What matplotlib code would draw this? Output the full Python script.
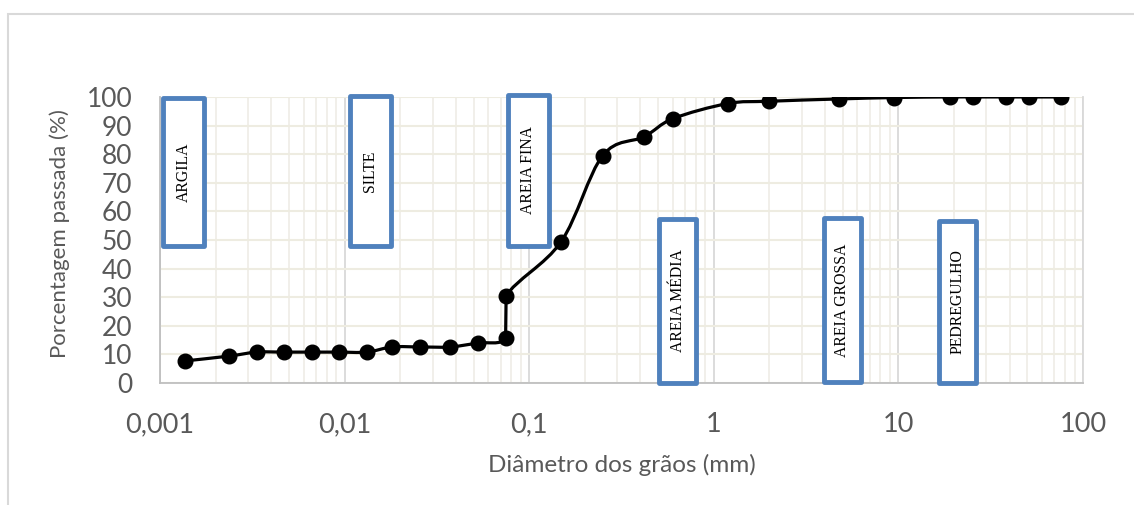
import numpy as np
import matplotlib
matplotlib.use('Agg')
from matplotlib import pyplot as plt
from matplotlib.path import Path
from matplotlib.patches import PathPatch, Rectangle
from matplotlib.ticker import FixedLocator, FuncFormatter, LogLocator, NullFormatter

# Grain size data (mm) and percent passing
diametro = [0.00136, 0.00236, 0.00335, 0.0047, 0.00666, 0.00933, 0.0132, 0.0181,
            0.0256, 0.0372, 0.0528, 0.0745, 0.075, 0.149, 0.25, 0.42, 0.6, 1.19,
            2.0, 4.76, 9.52, 19.1, 25.4, 38.1, 50.8, 76.2]
passada = [7.7, 9.4, 10.8, 10.8, 10.8, 10.8, 10.8, 12.6, 12.6, 12.6, 14.0, 15.7,
           30.4, 49.4, 79.5, 86.1, 92.4, 97.7, 98.5, 99.3, 99.8, 100, 100, 100, 100, 100]

x_ticks = [0.001, 0.01, 0.1, 1, 10, 100]
x_labels = ['0,001', '0,01', '0,1', '1', '10', '100']
y_ticks = list(range(0, 101, 10))

# soil class boxes: label, x0, x1, y0, y1 (axes fraction)
classes = ['ARGILA', 'SILTE', 'AREIA FINA', 'AREIA MÉDIA', 'AREIA GROSSA', 'PEDREGULHO']
box_x = [(0.003, 0.048), (0.206, 0.250), (0.377, 0.421), (0.541, 0.581), (0.719, 0.759), (0.844, 0.884)]
box_y = [(0.478, 0.997), (0.478, 1.003), (0.478, 1.008), (0.0, 0.575), (0.003, 0.578), (0.0, 0.568)]

fig = plt.figure(figsize=(11.34, 5.05), dpi=100)
ax = fig.add_axes([0.1411, 0.2416, 0.8139, 0.5664])

# outer chart border
fig.patches.append(Rectangle((8 / 1134, -0.1), 1.2, (505 - 14) / 505 + 0.1,
                             transform=fig.transFigure, fill=False,
                             edgecolor='#D9D9D9', lw=1.5))

ax.set_xscale('log')
ax.set_xlim(0.001, 100)
ax.set_ylim(0, 100)

# smoothed line (cardinal spline, like Excel) built as bezier path in log space
lx = np.log10(diametro)
ly = np.array(passada, dtype=float)
pts = np.column_stack([lx, ly])
verts = [pts[0]]
codes = [Path.MOVETO]
n = len(pts)
for i in range(n - 1):
    p0 = pts[i - 1] if i > 0 else pts[i]
    p1 = pts[i]
    p2 = pts[i + 1]
    p3 = pts[i + 2] if i + 2 < n else pts[i + 1]
    c1 = p1 + (p2 - p0) / 6
    c2 = p2 - (p3 - p1) / 6
    if i == 11:  # near-vertical jump, keep straight
        c1, c2 = p1, p2
    verts += [c1, c2, p2]
    codes += [Path.CURVE4] * 3
verts = np.array(verts)
verts[:, 0] = 10 ** verts[:, 0]
ax.add_patch(PathPatch(Path(verts, codes), fill=False, edgecolor='black', lw=2.3, zorder=3))
ax.plot(diametro, passada, linestyle='none', marker='o', color='black', markersize=10.5, zorder=4)

# grid
ax.xaxis.set_major_locator(FixedLocator(x_ticks))
ax.xaxis.set_minor_locator(LogLocator(base=10, subs=np.arange(2, 10)))
ax.xaxis.set_minor_formatter(NullFormatter())
ax.xaxis.set_major_formatter(FuncFormatter(lambda v, p: x_labels[x_ticks.index(v)] if v in x_ticks else ''))
ax.set_yticks(y_ticks)
ax.grid(True, which='major', axis='x', color='#D9D9D9', lw=1.3)
ax.grid(True, which='minor', axis='x', color='#F0EEE8', lw=1.3)
ax.grid(True, which='major', axis='y', color='#EEECE1', lw=1.5)
ax.set_axisbelow(True)
ax.tick_params(which='both', length=0)
ax.tick_params(axis='x', labelsize=19.5, colors='#595959', pad=21)
ax.tick_params(axis='y', labelsize=19, colors='#595959', pad=20)
for lab in ax.get_xticklabels() + ax.get_yticklabels():
    lab.set_family('Lato')

for s in ['top']:
    ax.spines[s].set_visible(False)
for s in ['left', 'bottom', 'right']:
    ax.spines[s].set_color('#BFBFBF')
    ax.spines[s].set_linewidth(1.3)
ax.spines['right'].set_color('#D9D9D9')

ax.set_xlabel('Diâmetro dos grãos (mm)', fontsize=17.5, color='#595959', family='Lato', labelpad=12)
ax.set_ylabel('Porcentagem passada (%)', fontsize=16, color='#595959', family='Lato')
ax.yaxis.set_label_coords(-0.097, 0.524)

for lab, (x0, x1), (y0, y1) in zip(classes, box_x, box_y):
    ax.add_patch(Rectangle((x0, y0), x1 - x0, y1 - y0, transform=ax.transAxes,
                           facecolor='white', edgecolor='#4F81BD', lw=3.5,
                           joinstyle='round', clip_on=False, zorder=5))
    ax.text((x0 + x1) / 2, (y0 + y1) / 2, lab, transform=ax.transAxes, rotation=90,
            ha='center', va='center', family='Liberation Serif', fontsize=11.3,
            color='black', zorder=6)

fig.savefig('out.png', dpi=100)
